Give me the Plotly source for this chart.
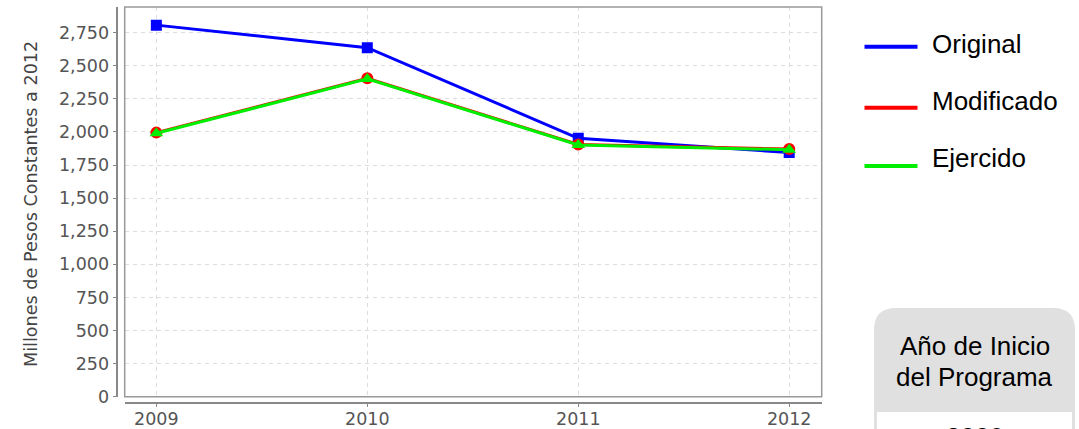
import plotly.graph_objects as go

W, H = 1079, 429

# ---- data ----
years = [2009, 2010, 2011, 2012]
original = [2807, 2637, 1952, 1845]
modificado = [1995, 2405, 1905, 1871]
ejercido = [1990, 2401, 1902, 1866]
series_names = ["Original", "Modificado", "Ejercido"]
y_title = "Millones de Pesos Constantes a 2012"
table_header = ["Año de Inicio", "del Programa"]
table_value = "2009"
y_ticks = list(range(0, 3000, 250))


def px(x):
    return x / W


def py(y):
    return 1 - y / H


# plot area in pixels
L, R, T, B = 124.7, 821.7, 7.0, 396.7

fig = go.Figure()
fig.add_trace(go.Scatter(
    x=years, y=original, name=series_names[0], mode="lines+markers",
    line=dict(color="#0000ff", width=3),
    marker=dict(symbol="square", size=11, color="#0000ff")))
fig.add_trace(go.Scatter(
    x=years, y=modificado, name=series_names[1], mode="lines+markers",
    line=dict(color="#ff0000", width=3),
    marker=dict(symbol="circle", size=12, color="#ff0000")))
fig.add_trace(go.Scatter(
    x=years, y=ejercido, name=series_names[2], mode="lines+markers",
    line=dict(color="#00ee00", width=3),
    marker=dict(symbol="triangle-up", size=12, color="#00ee00")))

tickfont = dict(family="DejaVu Sans", size=17.5, color="#555555")

fig.update_layout(
    width=W, height=H,
    margin=dict(l=0, r=0, t=0, b=0),
    paper_bgcolor="white", plot_bgcolor="white",
    showlegend=False,
    xaxis=dict(
        domain=[px(L), px(R)], range=[2008.85, 2012.154],
        anchor="free", position=py(402.5),
        tickvals=years, ticktext=[str(v) for v in years],
        showline=True, linecolor="#888888", linewidth=1.5,
        ticks="outside", ticklen=4, tickcolor="#888888",
        ticklabelstandoff=-3,
        showgrid=True, gridcolor="#dddddd", gridwidth=1, griddash="4px,4px",
        zeroline=False, tickfont=tickfont, automargin=False,
    ),
    yaxis=dict(
        domain=[py(B), py(T)], range=[0, 2944],
        anchor="free", position=px(117.3),
        tickvals=y_ticks, tickformat=",",
        showline=True, linecolor="#888888", linewidth=1.5,
        ticks="outside", ticklen=4, tickcolor="#888888",
        showgrid=True, gridcolor="#dddddd", gridwidth=1, griddash="4px,4px",
        zeroline=False, tickfont=tickfont, automargin=False,
    ),
)

shapes = []
# plot frame
shapes.append(dict(type="rect", xref="paper", yref="paper",
                   x0=px(L), x1=px(R), y0=py(B), y1=py(T),
                   line=dict(color="#999999", width=1.5), layer="above"))

annotations = []
# y axis title
annotations.append(dict(xref="paper", yref="paper", x=px(31), y=py(204),
                        text=y_title, textangle=-90, showarrow=False,
                        font=dict(family="DejaVu Sans", size=17.6, color="#444444"),
                        xanchor="center", yanchor="middle"))

# legend
leg_colors = ["#0000ff", "#ff0000", "#00ee00"]
leg_line_y = [46.7, 107.7, 166.0]
leg_text_y = [44.0, 100.5, 158.0]
for name, c, ly, ty in zip(series_names, leg_colors, leg_line_y, leg_text_y):
    shapes.append(dict(type="line", xref="paper", yref="paper",
                       x0=px(864.5), x1=px(917.5), y0=py(ly), y1=py(ly),
                       line=dict(color=c, width=4)))
    annotations.append(dict(xref="paper", yref="paper", x=px(930), y=py(ty),
                            text=name, showarrow=False, xanchor="left", yanchor="middle",
                            font=dict(family="Liberation Sans", size=26, color="#000000")))

# table box
x0, x1, top, r = 874, 1075, 308, 22
bot = 460
path = (f"M {px(x0)},{py(bot)} L {px(x0)},{py(top + r)} "
        f"Q {px(x0)},{py(top)} {px(x0 + r)},{py(top)} "
        f"L {px(x1 - r)},{py(top)} Q {px(x1)},{py(top)} {px(x1)},{py(top + r)} "
        f"L {px(x1)},{py(bot)} Z")
shapes.append(dict(type="path", xref="paper", yref="paper", path=path,
                   fillcolor="#e0e0e0", line=dict(width=0)))
shapes.append(dict(type="rect", xref="paper", yref="paper",
                   x0=px(877), x1=px(1072), y0=py(bot), y1=py(412),
                   fillcolor="#ffffff", line=dict(width=0)))
for txt, ty in zip(table_header, [346.0, 377.0]):
    annotations.append(dict(xref="paper", yref="paper", x=px(974.5), y=py(ty),
                            text=txt, showarrow=False, xanchor="center", yanchor="middle",
                            font=dict(family="Liberation Sans", size=26, color="#000000")))
annotations.append(dict(xref="paper", yref="paper", x=px(974.5), y=py(437),
                        text=table_value, showarrow=False, xanchor="center", yanchor="middle",
                        font=dict(family="Liberation Sans", size=26, color="#000000")))

fig.update_layout(shapes=shapes, annotations=annotations)
fig.write_html(
    "out.html",
    config={"displayModeBar": False},
    post_script="document.body.style.margin='0';document.body.style.overflow='hidden';",
)
